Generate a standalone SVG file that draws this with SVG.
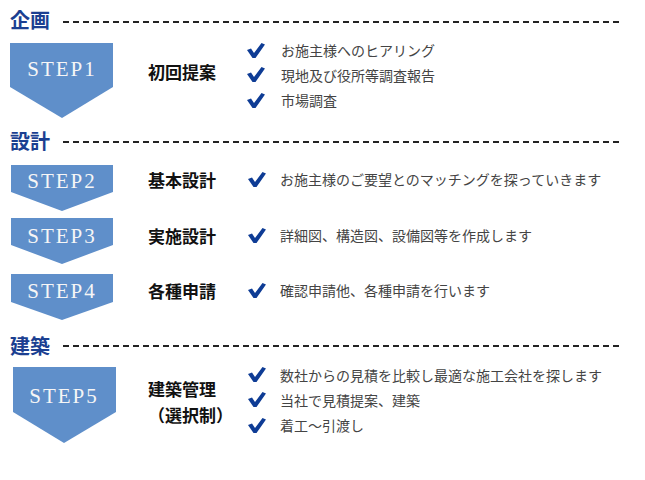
<svg xmlns="http://www.w3.org/2000/svg" width="645" height="480" viewBox="0 0 645 480">
<style>
.hd{font-family:"Noto Sans CJK JP","Noto Sans",sans-serif;font-weight:bold;font-size:20px;fill:#1b3f91}
.dash{stroke:#222;stroke-width:2;stroke-dasharray:6 4;fill:none}
.box{fill:#5f8fca}
.st{font-family:"Liberation Serif",serif;font-size:21px;fill:#f6f6f6;letter-spacing:2px;text-anchor:middle}
.tt{font-family:"Noto Sans CJK JP","Noto Sans",sans-serif;font-weight:bold;font-size:17px;fill:#111}
.it{font-family:"Noto Sans CJK JP","Noto Sans",sans-serif;font-size:14px;fill:#444}
.ck{fill:#0e3c95}
</style>
<defs>
<path id="chk" d="M0,7 L4,5.5 L7,10 L14.5,0 L18,1.5 L8.5,15 L5.5,15 Z"/>
</defs>
<rect width="645" height="480" fill="#fff"/>
<g id="connectors">
<line class="dash" x1="63" y1="22" x2="623" y2="22"/>
<line class="dash" x1="63" y1="142" x2="623" y2="142"/>
<line class="dash" x1="63" y1="346" x2="623" y2="346"/>
</g>
<g id="header1"><text class="hd" x="10" y="28">企画</text></g>
<g id="header2"><text class="hd" x="10" y="149">設計</text></g>
<g id="header3"><text class="hd" x="10" y="354">建築</text></g>
<g id="step1">
<polygon class="box" points="10,43 113,43 113,87 62,118 10,87"/>
<text class="st" x="62" y="76">STEP1</text>
<text class="tt" x="148" y="79">初回提案</text>
<use href="#chk" class="ck" x="247" y="43"/>
<use href="#chk" class="ck" x="247" y="67"/>
<use href="#chk" class="ck" x="247" y="93"/>
<text class="it" x="281" y="56">お施主様へのヒアリング</text>
<text class="it" x="281" y="81">現地及び役所等調査報告</text>
<text class="it" x="281" y="106">市場調査</text>
</g>
<g id="step2">
<polygon class="box" points="11,165 113,165 113,192 62,211 11,192"/>
<text class="st" x="62" y="188">STEP2</text>
<text class="tt" x="148" y="187">基本設計</text>
<use href="#chk" class="ck" x="248" y="172"/>
<text class="it" x="280" y="185">お施主様のご要望とのマッチングを探っていきます</text>
</g>
<g id="step3">
<polygon class="box" points="11,218 113,218 113,245 62,264 11,245"/>
<text class="st" x="62" y="243">STEP3</text>
<text class="tt" x="148" y="243">実施設計</text>
<use href="#chk" class="ck" x="248" y="228"/>
<text class="it" x="280" y="241">詳細図、構造図、設備図等を作成します</text>
</g>
<g id="step4">
<polygon class="box" points="11,274 113,274 113,302 62,320 11,302"/>
<text class="st" x="62" y="298">STEP4</text>
<text class="tt" x="148" y="298">各種申請</text>
<use href="#chk" class="ck" x="248" y="283"/>
<text class="it" x="280" y="296">確認申請他、各種申請を行います</text>
</g>
<g id="step5">
<polygon class="box" points="13,367 116,367 116,412 64,443 13,412"/>
<text class="st" x="64" y="403">STEP5</text>
<text class="tt" x="148" y="396">建築管理</text>
<text class="tt" x="148" y="422">（選択制）</text>
<use href="#chk" class="ck" x="248" y="367"/>
<use href="#chk" class="ck" x="248" y="392"/>
<use href="#chk" class="ck" x="248" y="418"/>
<text class="it" x="280" y="381">数社からの見積を比較し最適な施工会社を探します</text>
<text class="it" x="280" y="406">当社で見積提案、建築</text>
<text class="it" x="280" y="431">着工～引渡し</text>
</g>
</svg>
